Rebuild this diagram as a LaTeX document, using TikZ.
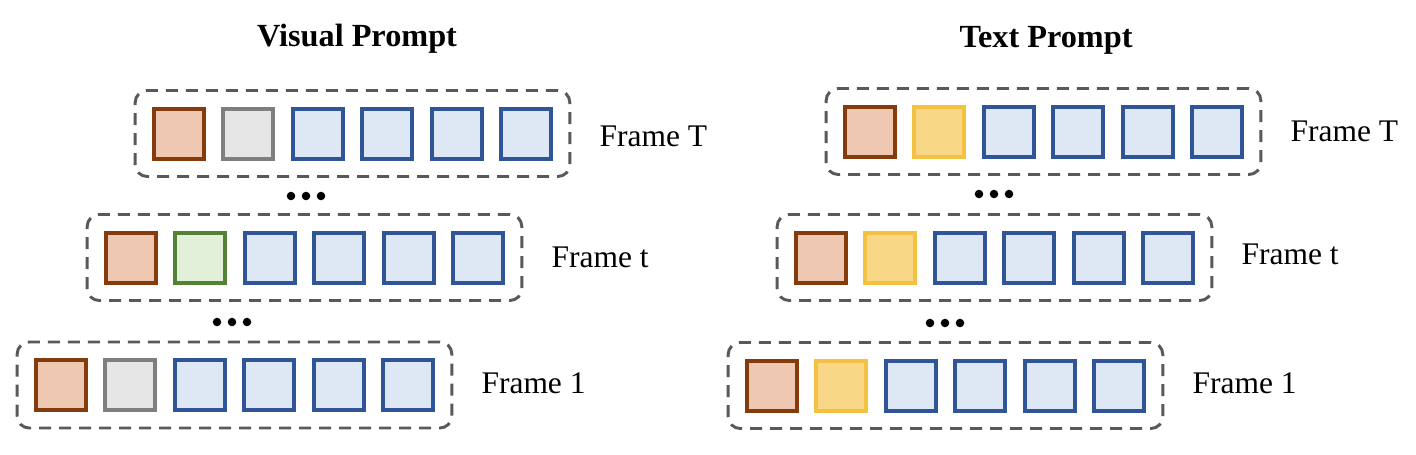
\documentclass[tikz,border=0pt]{standalone}
\usepackage{fontspec}
\setmainfont{Liberation Serif}
\definecolor{brD}{HTML}{843C0C}
\definecolor{brF}{HTML}{EEC8B0}
\definecolor{grD}{HTML}{7F7F7F}
\definecolor{grF}{HTML}{E7E6E6}
\definecolor{blD}{HTML}{2F5597}
\definecolor{blF}{HTML}{DEE7F4}
\definecolor{gnD}{HTML}{548235}
\definecolor{gnF}{HTML}{E2F0D9}
\definecolor{ywD}{HTML}{F4C142}
\definecolor{ywF}{HTML}{F8D886}
\definecolor{dashC}{HTML}{595959}
\tikzset{
  tok/.style={draw, line width=3pt, minimum size=37.5pt, inner sep=0pt},
  brn/.style={tok, draw=brD, fill=brF},
  gry/.style={tok, draw=grD, fill=grF},
  blu/.style={tok, draw=blD, fill=blF},
  grn/.style={tok, draw=gnD, fill=gnF},
  ylw/.style={tok, draw=ywD, fill=ywF},
  framebox/.style={draw=dashC, dash pattern=on 9pt off 6pt, line width=2.2pt,
    rounded corners=9pt, minimum width=326pt, minimum height=64.5pt, inner sep=0pt},
  lab/.style={font=\fontsize{23.6}{28}\selectfont, anchor=west, inner sep=0pt},
  ttl/.style={font=\fontsize{24.2}{29}\selectfont\bfseries, inner sep=0pt},
}
\newcommand\tokrow[6]{%
  \node[framebox] (#1) at (#2+217.5,#3) {};
  \node[brn] (#1-1) at (#2+44,#3) {};
  \node[#4] (#1-2) at (#2+113.4,#3) {};
  \foreach \i in {3,...,6} {\node[blu] (#1-\i) at (#2+44+69.4*\i-69.4,#3) {};}
  \node[lab] (#1-lab) at ([xshift=21pt,yshift=#6]#1.east) {#5};
}
\begin{document}
\begin{tikzpicture}[x=0.75pt,y=-0.75pt]
\useasboundingbox (0,0) rectangle (1416,454);
% titles
\node[ttl] (vp) at (357,39) {Visual Prompt};
\node[ttl] (tp) at (1046,40) {Text Prompt};
% left
\tokrow{lT}{135}{133.5}{gry}{Frame T}{-2.5pt}
\tokrow{lM}{87}{257.5}{grn}{Frame t}{0pt}
\tokrow{lB}{17}{385}{gry}{Frame 1}{1.5pt}
% right
\tokrow{rT}{826}{131.5}{ylw}{Frame T}{0pt}
\tokrow{rM}{777}{257.5}{ylw}{Frame t}{2pt}
\tokrow{rB}{728}{385.5}{ylw}{Frame 1}{1.5pt}
% dots
\foreach \d in {-15,0,15} {
  \fill (306+\d,196) circle (3.2pt);
  \fill (232+\d,322) circle (3.2pt);
  \fill (994+\d,194) circle (3.2pt);
  \fill (945+\d,323) circle (3.2pt);
}
\end{tikzpicture}
\end{document}
